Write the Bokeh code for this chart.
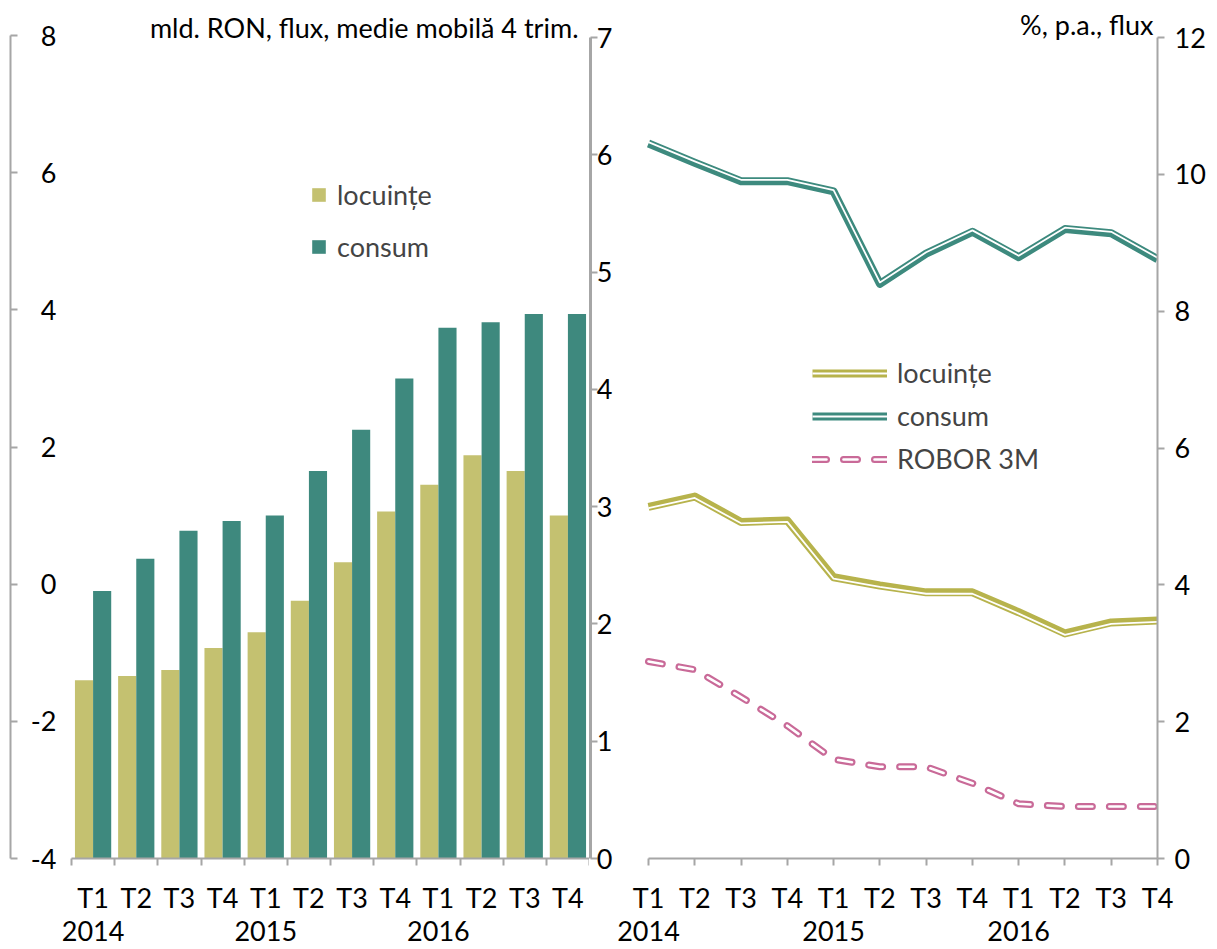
from bokeh.plotting import figure
from bokeh.models import (Range1d, LinearAxis, FixedTicker, Label, Legend, LegendItem)
from bokeh.layouts import row
from bokeh.embed import file_html
from bokeh.resources import INLINE

# ---------------- data ----------------
quarters = ["T1", "T2", "T3", "T4", "T1", "T2", "T3", "T4", "T1", "T2", "T3", "T4"]
year_labels = {0: "2014", 4: "2015", 8: "2016"}

# left panel: mld. RON, flux, medie mobila 4 trim.
flux_locuinte = [-1.40, -1.34, -1.25, -0.93, -0.70, -0.24, 0.32, 1.06, 1.45, 1.88, 1.65, 1.00]
flux_consum = [-0.10, 0.37, 0.78, 0.92, 1.00, 1.65, 2.25, 3.00, 3.74, 3.82, 3.94, 3.94]

# right panel: %, p.a., flux
rata_locuinte = [5.14, 5.29, 4.92, 4.94, 4.11, 3.99, 3.89, 3.89, 3.60, 3.29, 3.45, 3.48]
rata_consum = [10.45, 10.17, 9.90, 9.90, 9.75, 8.40, 8.84, 9.16, 8.79, 9.20, 9.14, 8.76]
robor_3m = [2.88, 2.76, 2.36, 1.94, 1.45, 1.34, 1.34, 1.10, 0.80, 0.76, 0.76, 0.76]

left_ticks = [-4, -2, 0, 2, 4, 6, 8]
right_left_ticks = [0, 1, 2, 3, 4, 5, 6, 7]
right_right_ticks = [0, 2, 4, 6, 8, 10, 12]

# ---------------- style ----------------
FONT = "Lato"
FS = "27px"
GRAY = "#A6A6A6"
YEL_BAR = "#C4C170"
TEAL_BAR = "#3E897E"
YEL_LINE = "#B7B34C"
TEAL_LINE = "#3D8A7E"
PINK = "#C96A98"

n = len(quarters)
xs = list(range(n))

FRAME_BOTTOM = 858   # pixel row of the x axes
H = 948
BB = H - FRAME_BOTTOM


def ext_range(lo, hi, top_px):
    # extend the range above `hi` so that `hi` sits top_px below the frame top
    per = (FRAME_BOTTOM - top_px) / (hi - lo)
    return Range1d(lo, hi + top_px / per), per


def style_axis(ax, tick_in=0, tick_out=0, standoff=5):
    ax.axis_line_color = GRAY
    ax.axis_line_width = 2
    ax.major_tick_line_color = GRAY
    ax.major_tick_line_width = 2
    ax.minor_tick_line_color = GRAY
    ax.minor_tick_line_width = 2
    ax.major_tick_in = tick_in
    ax.major_tick_out = tick_out
    ax.minor_tick_in = 0
    ax.minor_tick_out = 0
    ax.major_label_standoff = standoff
    ax.major_label_text_font = FONT
    ax.major_label_text_font_size = FS
    ax.major_label_text_color = "black"


# ================= left figure (bars) =================
y1, _ = ext_range(left_ticks[0], left_ticks[-1], 35)
p1 = figure(width=589, height=H, output_backend="svg", toolbar_location=None,
            x_range=Range1d(-0.5 - 61 / (518 / n), n - 0.5), y_range=y1,
            x_axis_location=None, y_axis_location=None,
            min_border_left=10, min_border_right=0, min_border_top=0, min_border_bottom=BB)
p1.outline_line_color = None
p1.xgrid.visible = False
p1.ygrid.visible = False

base = left_ticks[0]
r_loc = p1.vbar(x=[i - 0.21 for i in xs], top=flux_locuinte, bottom=base, width=0.42,
                fill_color=YEL_BAR, line_color=None)
r_con = p1.vbar(x=[i + 0.21 for i in xs], top=flux_consum, bottom=base, width=0.42,
                fill_color=TEAL_BAR, line_color=None)

yax1 = LinearAxis(ticker=FixedTicker(ticks=left_ticks), bounds=(left_ticks[0], left_ticks[-1]))
style_axis(yax1, tick_in=7, tick_out=0, standoff=-46)
yax1.major_label_overrides = {t: str(t) for t in left_ticks}
p1.add_layout(yax1, "left")

xax1 = LinearAxis(ticker=FixedTicker(ticks=xs, minor_ticks=[i - 0.5 for i in range(n + 1)]),
                  bounds=(-0.5, n - 0.5))
style_axis(xax1, tick_in=0, tick_out=0, standoff=15)
xax1.minor_tick_out = 7
xax1.major_label_overrides = {i: q for i, q in enumerate(quarters)}
p1.add_layout(xax1, "below")

yr1 = LinearAxis(ticker=FixedTicker(ticks=list(year_labels.keys())), bounds=(-0.5, n - 0.5))
style_axis(yr1, standoff=4)
yr1.axis_line_color = None
yr1.major_tick_line_color = None
yr1.major_label_overrides = year_labels
p1.add_layout(yr1, "below")

p1.add_layout(Label(x=n - 0.5, y=left_ticks[-1], text="mld. RON, flux, medie mobilă 4 trim.",
                    text_align="right", text_baseline="middle", x_offset=-11, y_offset=8,
                    text_font=FONT, text_font_size=FS, text_color="black"))

leg1 = Legend(items=[LegendItem(label="locuințe", renderers=[r_loc]),
                     LegendItem(label="consum", renderers=[r_con])],
              location=(300, 595), padding=0, margin=0, border_line_color=None,
              background_fill_alpha=0, glyph_width=17, glyph_height=17,
              label_height=30, spacing=19, label_standoff=10,
              label_text_font=FONT, label_text_font_size=FS)
p1.add_layout(leg1)

# ================= right figure (lines) =================
y2, _ = ext_range(right_left_ticks[0], right_left_ticks[-1], 37)
y2r, per_r = ext_range(right_right_ticks[0], right_right_ticks[-1], 37)
p2 = figure(width=623, height=H, output_backend="svg", toolbar_location=None,
            x_range=Range1d(-58 / (509 / (n - 1)), n - 1), y_range=y2,
            x_axis_location=None, y_axis_location=None,
            min_border_left=1, min_border_right=55, min_border_top=0, min_border_bottom=BB)
p2.extra_y_ranges = {"r": y2r}
p2.outline_line_color = None
p2.xgrid.visible = False
p2.ygrid.visible = False

off = 1.4 / per_r

c_loc = p2.line(xs, rata_locuinte, y_range_name="r", line_color=YEL_LINE, line_width=8,
                line_join="round")
w_loc = p2.line(xs, [v - off for v in rata_locuinte], y_range_name="r", line_color="white",
                line_width=1.8, line_join="round")
c_con = p2.line(xs, rata_consum, y_range_name="r", line_color=TEAL_LINE, line_width=8,
                line_join="round")
w_con = p2.line(xs, [v + off for v in rata_consum], y_range_name="r", line_color="white",
                line_width=1.8, line_join="round")
c_rob = p2.line(xs, robor_3m, y_range_name="r", line_color=PINK, line_width=7,
                line_dash="14 17", line_cap="round", line_join="round")
w_rob = p2.line(xs, robor_3m, y_range_name="r", line_color="white", line_width=2.6,
                line_dash="14 17", line_cap="round", line_join="round")

yax2 = LinearAxis(ticker=FixedTicker(ticks=right_left_ticks),
                  bounds=(right_left_ticks[0], right_left_ticks[-1]))
style_axis(yax2, tick_in=7, tick_out=0, standoff=-22)
yax2.axis_line_width = 3
p2.add_layout(yax2, "left")

yax2r = LinearAxis(y_range_name="r", ticker=FixedTicker(ticks=right_right_ticks),
                   bounds=(right_right_ticks[0], right_right_ticks[-1]))
style_axis(yax2r, tick_in=0, tick_out=7, standoff=10)
p2.add_layout(yax2r, "right")

xax2 = LinearAxis(ticker=FixedTicker(ticks=xs), bounds=(0, n - 1))
style_axis(xax2, tick_in=0, tick_out=7, standoff=15)
xax2.major_label_overrides = {i: q for i, q in enumerate(quarters)}
p2.add_layout(xax2, "below")

yr2 = LinearAxis(ticker=FixedTicker(ticks=list(year_labels.keys())), bounds=(0, n - 1))
style_axis(yr2, standoff=4)
yr2.axis_line_color = None
yr2.major_tick_line_color = None
yr2.major_label_overrides = year_labels
p2.add_layout(yr2, "below")

p2.add_layout(Label(x=n - 1, y=right_right_ticks[-1], y_range_name="r", text="%, p.a., flux",
                    text_align="right", text_baseline="middle", x_offset=-4, y_offset=13,
                    text_font=FONT, text_font_size=FS, text_color="black"))

leg2 = Legend(items=[LegendItem(label="locuințe", renderers=[c_loc, w_loc]),
                     LegendItem(label="consum", renderers=[c_con, w_con]),
                     LegendItem(label="ROBOR 3M", renderers=[c_rob, w_rob])],
              location=(222, 383), padding=0, margin=0, border_line_color=None,
              background_fill_alpha=0, glyph_width=75, glyph_height=20,
              label_height=30, spacing=10, label_standoff=10,
              label_text_font=FONT, label_text_font_size=FS)
p2.add_layout(leg2)

layout = row(p1, p2, spacing=0)
open("out.html", "w").write(file_html(layout, INLINE))
